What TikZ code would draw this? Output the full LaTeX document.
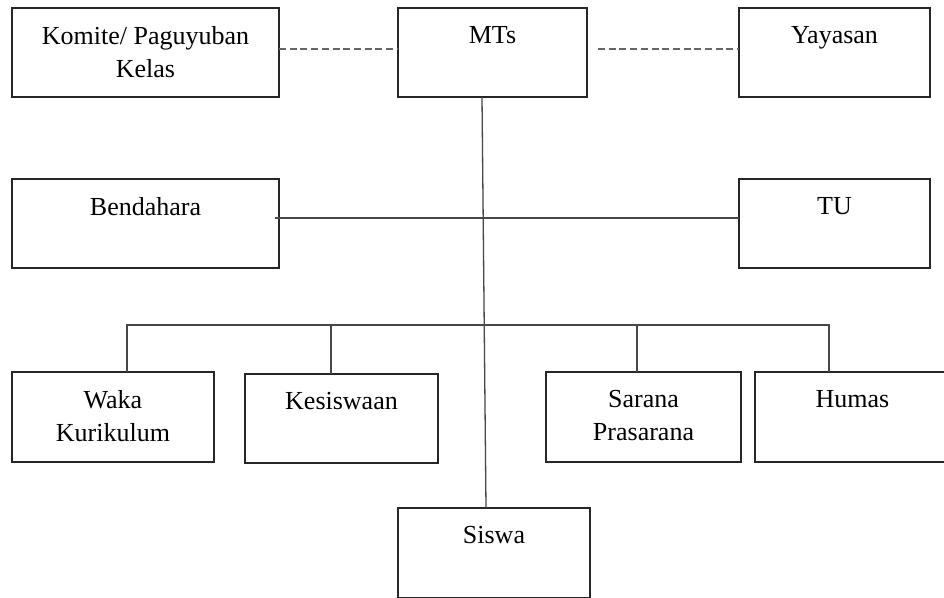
\documentclass[tikz,border=0pt]{standalone}
\usepackage{fontspec}
\setmainfont{Liberation Serif}
\begin{document}
\begin{tikzpicture}[x=1pt,y=-1pt,
  unit box/.style={draw=black!85, line width=1.4pt, rectangle, inner sep=0pt, outer sep=0pt, fill=white},
  lbl/.style={anchor=north, yshift=-18pt, inner sep=0pt, align=center, font={\fontsize{26}{33}\selectfont}},
  link/.style={draw=black!72, line width=1.3pt},
  dotlink/.style={draw=black!60, line width=1.3pt, dash pattern=on 7pt off 3.7pt}]
\useasboundingbox (0,0) rectangle (944,597);
\clip (0,0) rectangle (944,597);
\fill[white] (0,0) rectangle (944,597);

\coordinate (busR) at (829,325);

\node[unit box, minimum width=267pt, minimum height=89pt, label={[lbl]north:Komite/ Paguyuban\\Kelas}] (komite) at (145.5,52.5) {};
\node[unit box, minimum width=189pt, minimum height=89pt, label={[lbl]north:MTs}] (mts) at (492.5,52.5) {};
\node[unit box, minimum width=191pt, minimum height=89pt, label={[lbl]north:Yayasan}] (yay) at (834.5,52.5) {};
\node[unit box, minimum width=267pt, minimum height=89pt, label={[lbl]north:Bendahara}] (bend) at (145.5,223.5) {};
\node[unit box, minimum width=191pt, minimum height=89pt, label={[lbl]north:TU}] (tu) at (834.5,223.5) {};
\node[unit box, minimum width=202pt, minimum height=90pt, label={[lbl]north:Waka\\Kurikulum}] (waka) at (113,417) {};
\node[unit box, minimum width=193pt, minimum height=89pt, label={[lbl]north:Kesiswaan}] (kes) at (341.5,418.5) {};
\node[unit box, minimum width=195pt, minimum height=90pt, label={[lbl]north:Sarana\\Prasarana}] (sarana) at (643.5,417) {};
\node[unit box, minimum width=195pt, minimum height=90pt, label={[lbl]north:Humas}] (humas) at (852.5,417) {};
\node[unit box, minimum width=192pt, minimum height=90pt, label={[lbl]north:Siswa}] (siswa) at (494,553) {};

\draw[dotlink] ([yshift=3.5pt]komite.east) -- ([yshift=3.5pt]mts.west);
\draw[dotlink] ([xshift=11pt,yshift=3.5pt]mts.east) -- ([yshift=3.5pt]yay.west);
\draw[link] ([xshift=-4pt,yshift=5.5pt]bend.east) -- ([yshift=5.5pt]tu.west);
\draw[link] ([xshift=-10.5pt]mts.south) -- ([xshift=-8pt]siswa.north);
\draw[link] ([xshift=14pt]waka.north) |- (busR) -- ([xshift=-23.5pt]humas.north);
\draw[link] ([xshift=-10.5pt]kes.north) -- ([xshift=-10.5pt]kes.north |- busR);
\draw[link] ([xshift=-6.5pt]sarana.north) -- ([xshift=-6.5pt]sarana.north |- busR);
\end{tikzpicture}
\end{document}
